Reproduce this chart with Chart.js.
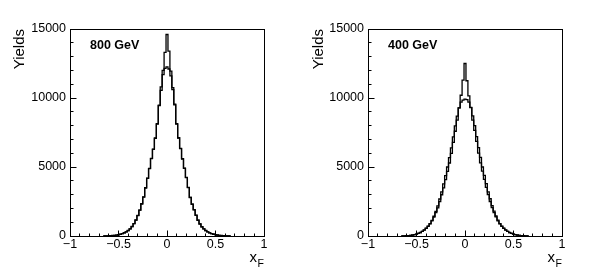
<!DOCTYPE html>
<html lang="en">
<head>
<meta charset="UTF-8">
<title>xF yields</title>
<script src="https://cdn.jsdelivr.net/npm/chart.js@4"></script>
<style>
  html, body { margin: 0; padding: 0; background: #fff; }
  .pad { position: absolute; top: 0; width: 299px; height: 274px; }
</style>
</head>
<body>
<div class="pad" style="left:0"><canvas id="pad800" width="299" height="274"></canvas></div>
<div class="pad" style="left:299px"><canvas id="pad400" width="299" height="274"></canvas></div>
<script>
// histogram binning: 65 bins of 0.02, first low edge at -0.65
const binLowEdge = -0.65;
const binWidth = 0.02;

// 800 GeV, the two histograms (peaked and rounded)
const sharp800 = [3, 6, 11, 20, 33, 48, 68, 92, 128, 172, 228, 305, 395, 515, 690, 890,
  1160, 1480, 1880, 2320, 2830, 3480, 4190, 4880, 5620, 6280, 7080, 8150, 9480, 10800, 12000, 13300,
  14600,
  13400, 11950, 10750, 9550, 8100, 7120, 6330, 5580, 4920, 4230, 3520, 2790, 2310, 1900, 1510, 1140,
  870, 670, 515, 400, 296, 232, 168, 131, 94, 72, 51, 34, 23, 12, 7, 3];
const round800 = [2, 5, 12, 18, 35, 50, 70, 95, 125, 175, 235, 300, 400, 520, 680, 900,
  1150, 1490, 1870, 2340, 2810, 3500, 4170, 4900, 5600, 6300, 7100, 8100, 9450, 10550, 11700, 12150,
  12250,
  12100, 11600, 10600, 9500, 8150, 7100, 6350, 5600, 4900, 4250, 3500, 2800, 2300, 1910, 1500, 1150,
  880, 660, 520, 395, 300, 225, 170, 128, 96, 70, 50, 36, 21, 13, 6, 2];

// 400 GeV
const sharp400 = [4, 9, 17, 29, 47, 69, 98, 138, 188, 248, 328, 428, 548, 695, 875, 1095,
  1375, 1695, 2045, 2490, 2990, 3490, 4090, 4690, 5290, 5990, 6790, 7590, 8390, 9290, 10200, 11300,
  12500,
  11250, 10150, 9300, 8400, 7650, 6850, 6000, 5300, 4700, 4100, 3520, 3000, 2500, 2060, 1700, 1380,
  1100, 880, 700, 550, 430, 332, 250, 190, 140, 100, 70, 48, 30, 18, 9, 4];
const round400 = [5, 10, 18, 30, 50, 72, 100, 140, 190, 255, 335, 440, 560, 710, 900, 1130,
  1430, 1780, 2180, 2680, 3200, 3780, 4380, 5000, 5680, 6380, 7180, 7980, 8680, 9280, 9700, 9850,
  9920,
  9880, 9700, 9320, 8700, 8000, 7200, 6400, 5700, 5000, 4400, 3800, 3200, 2700, 2200, 1800, 1450,
  1150, 900, 710, 560, 440, 335, 255, 192, 142, 102, 72, 50, 31, 19, 10, 4];

const xTicks = [-1, -0.5, 0, 0.5, 1];
const yTicks = [0, 5000, 10000, 15000];

const FONT = "'Liberation Sans', Arial, Helvetica, sans-serif";

// bin contents -> step outline points
function outline(values) {
  const pts = [{ x: binLowEdge, y: 0 }];
  values.forEach((v, i) => {
    const lo = binLowEdge + i * binWidth;
    pts.push({ x: lo, y: v }, { x: lo + binWidth, y: v });
  });
  pts.push({ x: binLowEdge + values.length * binWidth, y: 0 });
  return pts;
}

function fmtX(v) {
  if (v === 0) return '0';
  return v < 0 ? '\u2212' + Math.abs(v) : String(v);
}

// ROOT style frame, inward ticks and axis titles
const rootFrame = {
  id: 'rootFrame',
  afterDraw(chart, args, opts) {
    const ctx = chart.ctx;
    const ca = chart.chartArea;
    const xs = chart.scales.x, ys = chart.scales.y;
    const L = Math.floor(ca.left) + 0.5, R = Math.floor(ca.right) + 0.5;
    const T = Math.floor(ca.top) + 0.5, B = Math.floor(ca.bottom) + 0.5;
    ctx.save();
    ctx.strokeStyle = '#000';
    ctx.lineWidth = 1;
    ctx.strokeRect(L, T, R - L, B - T);

    ctx.beginPath();
    for (let k = 0; k <= 15; k++) {
      const y = Math.floor(ys.getPixelForValue(k * 1000)) + 0.5;
      const len = k % 5 === 0 ? 6 : 3;
      ctx.moveTo(L, y); ctx.lineTo(L + len, y);
    }
    for (let k = -10; k <= 10; k++) {
      const x = Math.floor(xs.getPixelForValue(k / 10)) + 0.5;
      const len = k % 5 === 0 ? 6 : 3;
      ctx.moveTo(x, B); ctx.lineTo(x, B - len);
    }
    ctx.stroke();

    ctx.fillStyle = '#000';
    // energy label
    ctx.font = 'bold 12.5px ' + FONT;
    ctx.textAlign = 'left';
    ctx.textBaseline = 'alphabetic';
    ctx.fillText(opts.label, ca.left + 20, 49);

    // y title
    ctx.save();
    ctx.translate(24, ca.top);
    ctx.rotate(-Math.PI / 2);
    ctx.font = '15px ' + FONT;
    ctx.textAlign = 'right';
    ctx.fillText('Yields', 0, 0);
    ctx.restore();

    // x title with subscript
    ctx.font = '10.5px ' + FONT;
    const wF = ctx.measureText('F').width;
    ctx.textAlign = 'left';
    const xEnd = ca.right;
    ctx.fillText('F', xEnd - wF, 267);
    ctx.font = '15px ' + FONT;
    const wx = ctx.measureText('x').width;
    ctx.fillText('x', xEnd - wF - wx - 0.5, 262);
    ctx.restore();
  }
};

function makePad(id, label, sharp, round, leftMargin) {
  const rightMargin = 299 - 194 - leftMargin;
  const line = (data) => ({
    data: outline(data),
    borderColor: '#000',
    borderWidth: 1.3,
    pointRadius: 0,
    fill: false,
    tension: 0
  });
  return new Chart(document.getElementById(id), {
    type: 'line',
    data: { datasets: [line(sharp), line(round)] },
    options: {
      responsive: false,
      animation: false,
      layout: { padding: { top: 29, right: rightMargin, left: 0, bottom: 0 } },
      plugins: { legend: { display: false }, tooltip: { enabled: false }, rootFrame: { label } },
      scales: {
        x: {
          type: 'linear', min: -1, max: 1,
          afterBuildTicks: s => { s.ticks = xTicks.map(v => ({ value: v })); },
          afterFit: s => { s.height = 38; },
          grid: { display: false, drawTicks: false }, border: { display: false },
          ticks: { callback: fmtX, color: '#000', font: { family: FONT, size: 12.5 }, padding: 1, maxRotation: 0, autoSkip: false }
        },
        y: {
          type: 'linear', min: 0, max: 15000,
          afterBuildTicks: s => { s.ticks = yTicks.map(v => ({ value: v })); },
          afterFit: s => { s.width = leftMargin; },
          grid: { display: false, drawTicks: false }, border: { display: false },
          ticks: { callback: v => String(v), color: '#000', font: { family: FONT, size: 12.5 }, padding: 4 }
        }
      }
    },
    plugins: [rootFrame]
  });
}

makePad('pad800', '800 GeV', sharp800, round800, 70);
makePad('pad400', '400 GeV', sharp400, round400, 69);
</script>
</body>
</html>
